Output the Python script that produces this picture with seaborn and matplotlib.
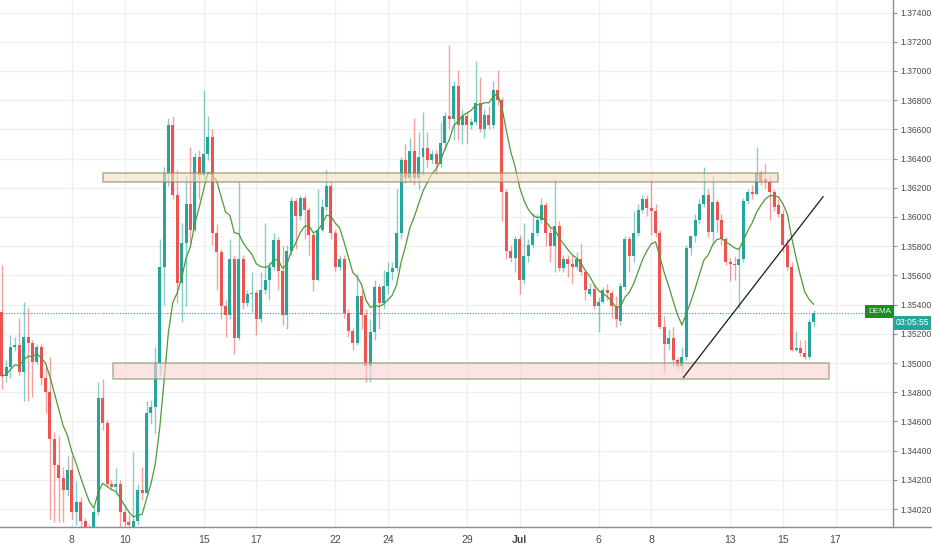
import matplotlib
matplotlib.use("Agg")
import matplotlib.pyplot as plt
from matplotlib.lines import Line2D
from matplotlib.patches import Rectangle
import numpy as np
import pandas as pd
import seaborn as sns

# 4h candles, prices written in units of 0.0001
open_pips = [13535, 13491, 13497, 13511, 13512, 13494, 13518, 13514, 13501, 13511,
             13490, 13480, 13448, 13430, 13421, 13413, 13427, 13398, 13405, 13392,
             13388, 13384, 13398, 13476, 13459, 13417, 13415, 13417, 13398, 13391,
             13388, 13392, 13413, 13411, 13466, 13470, 13500, 13566, 13630, 13663,
             13615, 13555, 13582, 13609, 13591, 13641, 13629, 13643, 13655, 13589,
             13576, 13539, 13533, 13571, 13517, 13571, 13541, 13547, 13548, 13530,
             13550, 13557, 13566, 13584, 13563, 13533, 13577, 13611, 13601, 13613,
             13605, 13588, 13557, 13591, 13607, 13621, 13589, 13566, 13571, 13534,
             13522, 13514, 13546, 13533, 13498, 13521, 13552, 13541, 13553, 13562,
             13565, 13589, 13639, 13627, 13645, 13627, 13641, 13647, 13639, 13643,
             13636, 13651, 13669, 13667, 13690, 13663, 13669, 13663, 13665, 13678,
             13660, 13670, 13663, 13687, 13680, 13617, 13577, 13572, 13585, 13557,
             13573, 13581, 13589, 13598, 13608, 13589, 13580, 13594, 13565, 13571,
             13568, 13566, 13571, 13562, 13547, 13551, 13539, 13542, 13550, 13548,
             13539, 13529, 13552, 13585, 13573, 13589, 13605, 13612, 13606, 13604,
             13589, 13525, 13513, 13517, 13502, 13498, 13504, 13579, 13587, 13598,
             13609, 13615, 13590, 13610, 13598, 13585, 13569, 13568, 13567, 13571,
             13611, 13617, 13616, 13630, 13626, 13624, 13617, 13608, 13602, 13581,
             13566, 13509, 13510, 13507, 13504, 13528]
high_pips = [13567, 13502, 13519, 13518, 13531, 13542, 13538, 13516, 13513, 13513,
             13497, 13504, 13453, 13450, 13429, 13436, 13436, 13419, 13408, 13394,
             13390, 13401, 13487, 13489, 13461, 13420, 13428, 13420, 13403, 13396,
             13439, 13417, 13429, 13474, 13475, 13511, 13585, 13634, 13668, 13669,
             13632, 13596, 13628, 13648, 13644, 13646, 13687, 13669, 13660, 13595,
             13578, 13543, 13585, 13574, 13624, 13574, 13550, 13562, 13550, 13562,
             13596, 13569, 13589, 13586, 13580, 13581, 13614, 13613, 13615, 13615,
             13607, 13590, 13619, 13612, 13632, 13624, 13591, 13574, 13574, 13537,
             13524, 13561, 13550, 13537, 13530, 13557, 13554, 13564, 13569, 13569,
             13619, 13641, 13650, 13654, 13668, 13658, 13672, 13658, 13646, 13646,
             13665, 13672, 13718, 13693, 13701, 13674, 13672, 13668, 13707, 13696,
             13674, 13676, 13693, 13701, 13682, 13619, 13581, 13587, 13588, 13596,
             13585, 13603, 13602, 13613, 13610, 13593, 13626, 13597, 13574, 13574,
             13574, 13576, 13582, 13564, 13555, 13554, 13545, 13552, 13554, 13550,
             13546, 13555, 13587, 13587, 13604, 13609, 13615, 13615, 13626, 13609,
             13591, 13532, 13523, 13525, 13504, 13511, 13581, 13588, 13602, 13612,
             13634, 13619, 13628, 13612, 13602, 13586, 13572, 13573, 13578, 13613,
             13619, 13622, 13648, 13632, 13637, 13629, 13619, 13612, 13605, 13585,
             13569, 13522, 13516, 13516, 13530, 13536]
low_pips = [13482, 13487, 13490, 13508, 13492, 13474, 13474, 13477, 13499, 13485,
            13466, 13393, 13391, 13391, 13391, 13409, 13393, 13389, 13388, 13382,
            13379, 13379, 13396, 13454, 13415, 13413, 13410, 13388, 13386, 13382,
            13386, 13389, 13406, 13410, 13458, 13452, 13492, 13540, 13621, 13612,
            13541, 13528, 13539, 13582, 13590, 13612, 13627, 13639, 13581, 13550,
            13530, 13518, 13530, 13506, 13516, 13537, 13539, 13535, 13519, 13528,
            13547, 13543, 13564, 13550, 13526, 13523, 13574, 13578, 13598, 13585,
            13574, 13549, 13556, 13590, 13605, 13585, 13563, 13564, 13531, 13518,
            13509, 13512, 13523, 13487, 13487, 13516, 13523, 13537, 13547, 13557,
            13563, 13585, 13623, 13624, 13622, 13619, 13629, 13634, 13636, 13629,
            13634, 13646, 13660, 13653, 13653, 13650, 13651, 13660, 13663, 13658,
            13654, 13660, 13661, 13677, 13597, 13571, 13569, 13562, 13547, 13554,
            13569, 13579, 13587, 13596, 13580, 13569, 13562, 13563, 13562, 13559,
            13555, 13564, 13560, 13543, 13546, 13537, 13521, 13541, 13543, 13531,
            13525, 13526, 13550, 13562, 13569, 13587, 13603, 13601, 13588, 13586,
            13523, 13493, 13509, 13498, 13496, 13494, 13502, 13574, 13583, 13595,
            13607, 13586, 13581, 13590, 13581, 13567, 13556, 13557, 13538, 13569,
            13609, 13612, 13615, 13622, 13620, 13598, 13604, 13600, 13576, 13564,
            13508, 13508, 13505, 13503, 13503, 13525]
close_pips = [13491, 13497, 13511, 13512, 13494, 13518, 13514, 13501, 13511, 13490,
              13480, 13448, 13430, 13421, 13413, 13427, 13398, 13405, 13392, 13388,
              13384, 13398, 13476, 13459, 13417, 13415, 13417, 13398, 13391, 13389,
              13392, 13413, 13411, 13466, 13470, 13500, 13566, 13630, 13663, 13615,
              13555, 13582, 13609, 13591, 13641, 13629, 13643, 13655, 13589, 13576,
              13539, 13533, 13571, 13517, 13571, 13541, 13547, 13548, 13530, 13550,
              13557, 13566, 13584, 13563, 13533, 13577, 13611, 13601, 13613, 13605,
              13588, 13557, 13591, 13607, 13621, 13589, 13566, 13571, 13534, 13522,
              13514, 13546, 13533, 13498, 13521, 13552, 13541, 13553, 13562, 13565,
              13589, 13639, 13627, 13645, 13627, 13641, 13647, 13639, 13643, 13636,
              13651, 13669, 13667, 13690, 13663, 13669, 13663, 13665, 13678, 13660,
              13670, 13663, 13687, 13680, 13617, 13577, 13572, 13585, 13557, 13573,
              13581, 13589, 13598, 13608, 13589, 13580, 13594, 13565, 13571, 13568,
              13566, 13571, 13562, 13550, 13551, 13539, 13542, 13550, 13548, 13539,
              13530, 13553, 13585, 13573, 13589, 13605, 13612, 13606, 13604, 13589,
              13525, 13513, 13517, 13502, 13498, 13504, 13579, 13587, 13598, 13609,
              13615, 13590, 13610, 13598, 13585, 13569, 13568, 13567, 13571, 13611,
              13617, 13616, 13630, 13624, 13624, 13617, 13607, 13602, 13581, 13566,
              13509, 13510, 13507, 13504, 13528, 13534]

day_labels = ["8", "10", "15", "17", "22", "24", "29", "Jul", "6", "8", "13", "15", "17"]
day_bars = [16, 28, 46, 58, 76, 88, 106, 118, 136, 148, 166, 178, 190]

price_ticks = [1.374, 1.372, 1.370, 1.368, 1.366, 1.364, 1.362, 1.360, 1.358,
               1.356, 1.354, 1.352, 1.350, 1.348, 1.346, 1.344, 1.342, 1.340]
price_labels = ["1.37400", "1.37200", "1.37000", "1.36800", "1.36600", "1.36400",
                "1.36200", "1.36000", "1.35800", "1.35600", "1.35400", "1.35200",
                "1.35000", "1.34800", "1.34600", "1.34400", "1.34200", "1.34020"]

# drawn zones and trend line (bar index, price)
upper_zone = (23.1, 176.9, 1.3624, 1.3630)
lower_zone = (25.4, 188.5, 1.3489, 1.3500)
trend_line = ((155.3, 1.3490), (187.2, 1.3614))
dema_len = 20
countdown = "03:05:55"

GREEN = "#26a69a"
RED = "#ef5350"
AXIS = "#8a8d96"

df = pd.DataFrame({"open": open_pips, "high": high_pips,
                   "low": low_pips, "close": close_pips}) / 1e4
ema1 = df["close"].ewm(span=dema_len, adjust=False).mean()
ema2 = ema1.ewm(span=dema_len, adjust=False).mean()
df["dema"] = 2 * ema1 - ema2

sns.set_style("white")
plt.rcParams["font.family"] = ["Liberation Sans", "DejaVu Sans"]

fig = plt.figure(figsize=(9.32, 5.5), dpi=100)
ax = fig.add_axes([0, 23 / 550, 893 / 932, 527 / 550])

up = df["close"] >= df["open"]
cols = np.where(up, GREEN, RED)
ax.vlines(df.index, df["low"], df["high"], colors=cols, linewidth=1, alpha=0.55, zorder=2)
body = (df["close"] - df["open"]).abs().clip(lower=0.00006)
ax.bar(df.index, body, bottom=np.minimum(df["open"], df["close"]), width=0.68,
       color=cols, linewidth=0, zorder=3)

sns.lineplot(x=df.index, y=df["dema"], ax=ax, color="#4f9a35", linewidth=0.9, zorder=4)

x0, x1, y0, y1 = upper_zone
ax.add_patch(Rectangle((x0, y0), x1 - x0, y1 - y0, facecolor="#f6dfc4", alpha=0.6,
                       edgecolor="#8a855a", linewidth=1.2, zorder=5))
x0, x1, y0, y1 = lower_zone
ax.add_patch(Rectangle((x0, y0), x1 - x0, y1 - y0, facecolor="#fbd3d6", alpha=0.6,
                       edgecolor="#7d9a52", linewidth=1.2, zorder=5))
(tx0, ty0), (tx1, ty1) = trend_line
ax.plot([tx0, tx1], [ty0, ty1], color="#1a1a1a", linewidth=0.9, zorder=6)

last = df["close"].iloc[-1]
ax.axhline(last, color=GREEN, linestyle=(0, (1, 1.5)), linewidth=0.8, zorder=1.5)

ax.set_xlim(-0.39, 203.1)
ax.set_ylim(1.33877, 1.37486)
ax.set_xticks(day_bars)
ax.set_xticklabels(day_labels, fontsize=7.5)
ax.set_yticks(price_ticks)
ax.set_yticklabels(price_labels, fontsize=6.2)
ax.yaxis.tick_right()
ax.grid(True, color="#eef0f3", linewidth=1, zorder=0)
ax.set_axisbelow(True)
ax.set_xlabel("")
ax.set_ylabel("")
for side in ["top", "left"]:
    ax.spines[side].set_visible(False)
for side in ["right", "bottom"]:
    ax.spines[side].set_color(AXIS)
    ax.spines[side].set_linewidth(1)
ax.tick_params(axis="y", colors=AXIS, labelcolor="#4a4a4a", length=3, width=0.8, pad=2)
ax.tick_params(axis="x", colors=AXIS, labelcolor="#4a4a4a", length=3, width=0.8, pad=3)
for lab in ax.get_xticklabels():
    if lab.get_text() == "Jul":
        lab.set_fontweight("bold")
fig.add_artist(Line2D([893 / 932, 1], [23 / 550, 23 / 550], transform=fig.transFigure,
                      color=AXIS, linewidth=1))

ytr = ax.get_yaxis_transform()
ax.text(0.998, last + 0.00013, "DEMA", transform=ytr, ha="right", va="center",
        fontsize=5.8, color="#e6f4e6", zorder=10,
        bbox=dict(boxstyle="square,pad=0.4", facecolor="#1c8c24", edgecolor="none"))
ax.text(1.0025, last - 0.00064, countdown, transform=ytr, ha="left", va="center",
        fontsize=6.2, color="white", zorder=10, clip_on=False,
        bbox=dict(boxstyle="square,pad=0.3", facecolor=GREEN, edgecolor="none"))

fig.savefig("out.png", dpi=100)
